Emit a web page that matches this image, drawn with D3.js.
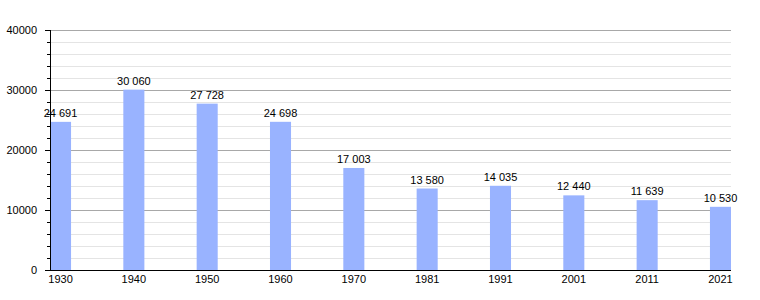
<!DOCTYPE html>
<html>
<head>
<meta charset="utf-8">
<title>Population</title>
<script src="https://d3js.org/d3.v7.min.js"></script>
<style>
  body { margin: 0; background: #fff; }
  text { font-family: "Liberation Sans", Arial, sans-serif; font-size: 11px; fill: #000; }
</style>
</head>
<body>
<svg id="chart"></svg>
<script>
// census years and population
var years = ["1930", "1940", "1950", "1960", "1970", "1981", "1991", "2001", "2011", "2021"];
var population = [24691, 30060, 27728, 24698, 17003, 13580, 14035, 12440, 11639, 10530];
var yTicks = [0, 10000, 20000, 30000, 40000];
var minorTicks = d3.range(0, 40001, 2000);

var w = 760, h = 300;
var margin = {top: 30, right: 29, bottom: 30, left: 50};
var width = w - margin.left - margin.right,
    height = h - margin.top - margin.bottom;

var svg = d3.select("#chart")
    .attr("width", w)
    .attr("height", h)
  .append("g")
    .attr("transform", "translate(" + margin.left + "," + margin.top + ")");

var x = d3.scaleBand()
    .domain(years)
    .range([0, width])
    .paddingInner(0.713)
    .paddingOuter(0);

var y = d3.scaleLinear()
    .domain([0, 40000])
    .range([height, 0]);

// minor grid
svg.selectAll(".minor")
    .data(minorTicks.filter(function(d) { return d % 10000 != 0; }))
  .enter().append("line")
    .attr("x1", 0).attr("x2", width)
    .attr("y1", function(d) { return y(d) + 0.5; })
    .attr("y2", function(d) { return y(d) + 0.5; })
    .attr("stroke", "#e4e4e4");

// major grid
svg.selectAll(".major")
    .data(yTicks.filter(function(d) { return d > 0; }))
  .enter().append("line")
    .attr("x1", 0).attr("x2", width)
    .attr("y1", function(d) { return y(d) + 0.5; })
    .attr("y2", function(d) { return y(d) + 0.5; })
    .attr("stroke", "#a8a8a8");

// bars
svg.selectAll(".bar")
    .data(population)
  .enter().append("rect")
    .attr("x", function(d, i) { return x(years[i]); })
    .attr("width", x.bandwidth())
    .attr("y", function(d) { return y(d); })
    .attr("height", function(d) { return height - y(d); })
    .attr("fill", "#99b3ff");

// value labels
var fmt = function(v) { return d3.format(",")(v).replace(",", " "); };
svg.selectAll(".val")
    .data(population)
  .enter().append("text")
    .attr("x", function(d, i) { return x(years[i]) + x.bandwidth() / 2; })
    .attr("y", function(d) { return y(d) - 5; })
    .attr("text-anchor", "middle")
    .text(fmt);

// y axis
svg.append("line")
    .attr("x1", 0.5).attr("x2", 0.5)
    .attr("y1", 0).attr("y2", height)
    .attr("stroke", "#000");

svg.selectAll(".mtick")
    .data(minorTicks)
  .enter().append("line")
    .attr("x1", function(d) { return d % 10000 == 0 ? -5 : -3; })
    .attr("x2", 0)
    .attr("y1", function(d) { return y(d) + 0.5; })
    .attr("y2", function(d) { return y(d) + 0.5; })
    .attr("stroke", "#000");

svg.selectAll(".ylab")
    .data(yTicks)
  .enter().append("text")
    .attr("x", -13)
    .attr("y", function(d) { return y(d) + 4; })
    .attr("text-anchor", "end")
    .text(function(d) { return d; });

// x axis
svg.append("line")
    .attr("x1", 0).attr("x2", width)
    .attr("y1", height + 0.5).attr("y2", height + 0.5)
    .attr("stroke", "#000");

svg.selectAll(".xlab")
    .data(years)
  .enter().append("text")
    .attr("x", function(d) { return x(d) + x.bandwidth() / 2; })
    .attr("y", height + 13)
    .attr("text-anchor", "middle")
    .text(function(d) { return d; });
</script>
</html>
